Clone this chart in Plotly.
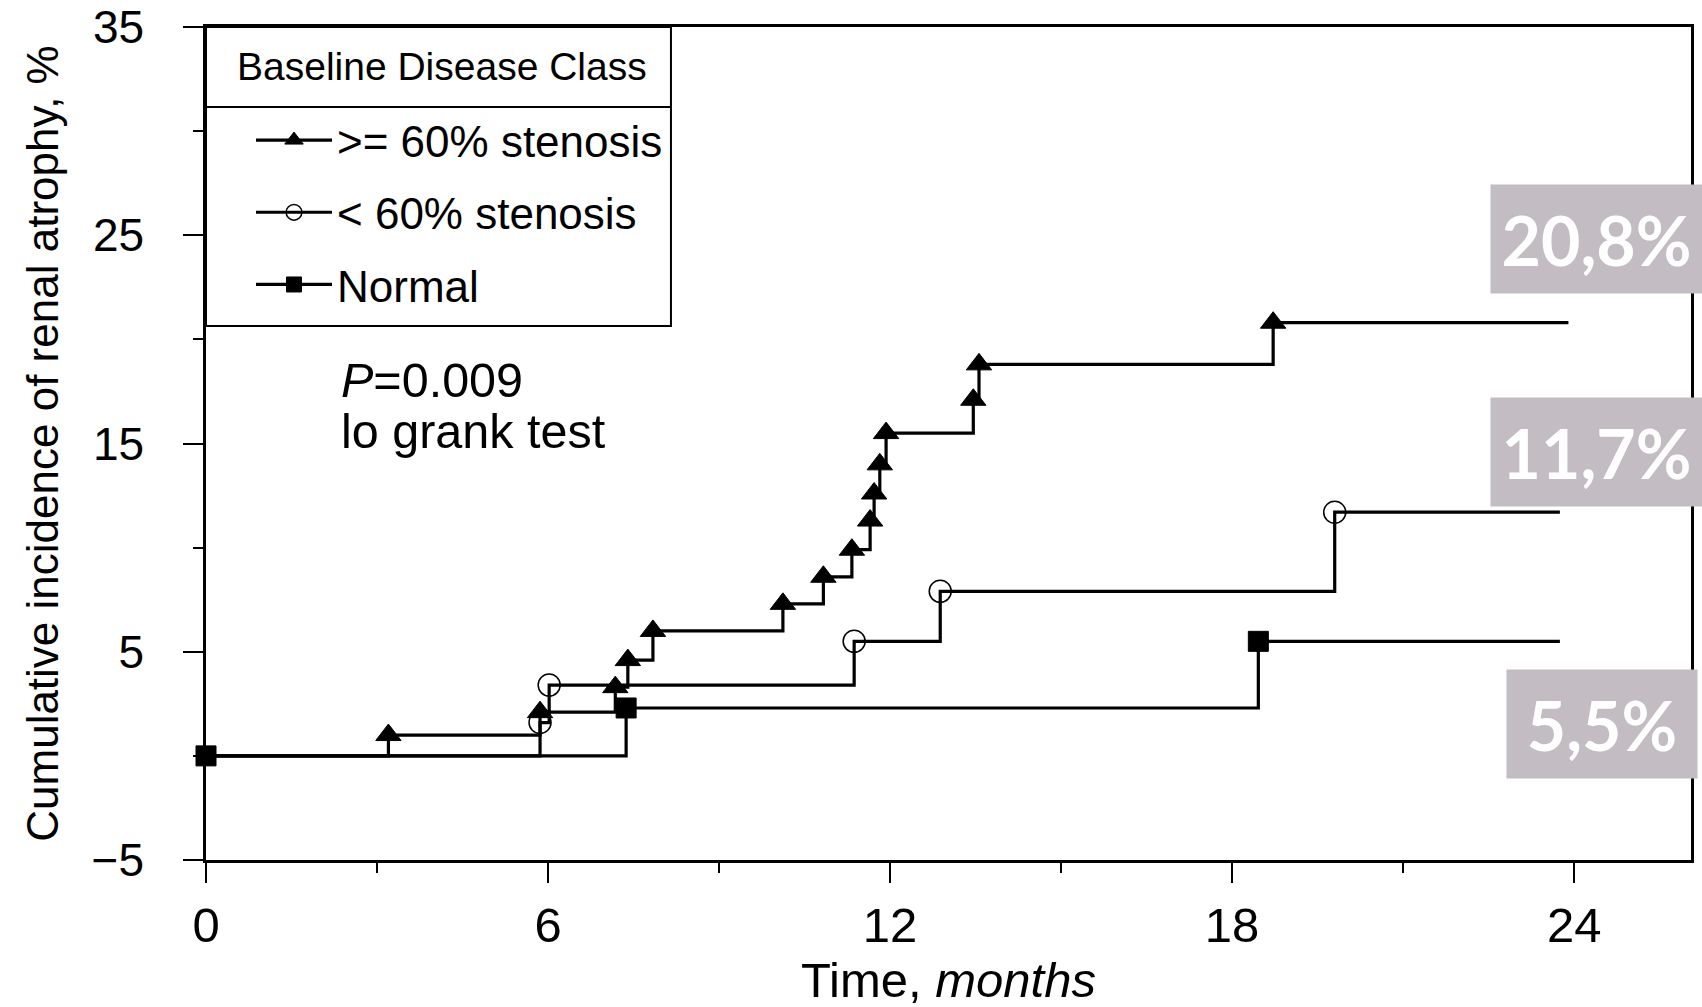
import plotly.graph_objects as go

# ---- data ----
months_ge60 = [0, 3.2, 5.86, 7.18, 7.4, 7.84, 10.12, 10.83, 11.33, 11.65, 11.72, 11.82, 11.93, 13.46, 13.56, 18.72, 23.9]
inc_ge60 = [0, 1.0, 2.1, 3.3, 4.6, 6.0, 7.3, 8.6, 9.9, 11.3, 12.6, 14.0, 15.5, 17.1, 18.8, 20.8, 20.8]

months_lt60 = [0, 5.86, 6.02, 11.37, 12.88, 19.8, 23.75]
inc_lt60 = [0, 1.6, 3.4, 5.5, 7.9, 11.7, 11.7]

months_norm = [0, 7.37, 18.46, 23.75]
inc_norm = [0, 2.3, 5.5, 5.5]

series_names = [">= 60% stenosis", "< 60% stenosis", "Normal"]
final_labels = ["20,8%", "11,7%", "5,5%"]
x_ticks = [0, 6, 12, 18, 24]
y_ticks = [-5, 5, 15, 25, 35]

FONT = "Liberation Sans, Arial, Helvetica, sans-serif"


def event_sizes(n, size, first=False):
    s = [size] * n
    if not first:
        s[0] = 0
    s[-1] = 0
    return s


fig = go.Figure()

fig.add_trace(go.Scatter(
    x=months_ge60, y=inc_ge60, name=series_names[0], legendgroup="a",
    mode="lines+markers", line=dict(shape="hv", color="black", width=3.2),
    marker=dict(symbol="triangle-up", color="black", opacity=1, line=dict(width=1, color="black"),
                size=event_sizes(len(months_ge60), 22)),
    cliponaxis=False,
))
fig.add_trace(go.Scatter(
    x=months_lt60, y=inc_lt60, name=series_names[1], legendgroup="b",
    mode="lines+markers", line=dict(shape="hv", color="black", width=3.2),
    marker=dict(symbol="circle-open", color="black", opacity=1, line=dict(width=1.5, color="black"),
                size=event_sizes(len(months_lt60), 22)),
    cliponaxis=False,
))
fig.add_trace(go.Scatter(
    x=months_norm, y=inc_norm, name=series_names[2], legendgroup="c",
    mode="lines+markers", line=dict(shape="hv", color="black", width=3.2),
    marker=dict(symbol="square", color="black", opacity=1, line=dict(width=1, color="black"),
                size=event_sizes(len(months_norm), 20, first=True)),
    cliponaxis=False,
))

# legend box with header
fig.add_shape(type="rect", xref="paper", yref="paper", x0=0.0, x1=0.3131, y0=0.641, y1=1.0,
              line=dict(color="black", width=2), fillcolor="rgba(0,0,0,0)")
fig.add_shape(type="line", xref="paper", yref="paper", x0=0.0, x1=0.3131, y0=0.904, y1=0.904,
              line=dict(color="black", width=2))
fig.add_annotation(text="Baseline Disease Class", xref="paper", yref="paper", x=0.159, y=0.952,
                   xanchor="center", yanchor="middle", showarrow=False,
                   font=dict(family=FONT, size=39, color="black"))

# p-value text
fig.add_annotation(text="<i>P</i>=0.009", xref="paper", yref="paper", x=0.0895, y=0.5762,
                   xanchor="left", yanchor="middle", showarrow=False,
                   font=dict(family=FONT, size=48.5, color="black"))
fig.add_annotation(text="lo grank test", xref="paper", yref="paper", x=0.0895, y=0.515,
                   xanchor="left", yanchor="middle", showarrow=False,
                   font=dict(family=FONT, size=48.5, color="black"))

# final value boxes
box_pos = [(0.9367, 0.7455, 211), (0.9367, 0.4898, 211), (0.9401, 0.1633, 190)]
for lab, (bx, by, bw) in zip(final_labels, box_pos):
    fig.add_annotation(text="<b>%s</b>" % lab, xref="paper", yref="paper", x=bx, y=by,
                       xanchor="center", yanchor="middle", showarrow=False,
                       width=bw, height=108, borderpad=0, bgcolor="#C4BCC3",
                       font=dict(family="Lato, Open Sans, sans-serif", size=68, color="white"))

fig.update_layout(
    width=1702, height=1007,
    margin=dict(l=206, r=11, t=27, b=147, autoexpand=False),
    paper_bgcolor="white", plot_bgcolor="white",
    font=dict(family=FONT, color="black"),
    showlegend=True,
    legend=dict(x=0.0303, y=0.9064, xanchor="left", yanchor="top",
                bgcolor="rgba(0,0,0,0)", borderwidth=0,
                font=dict(family=FONT, size=44, color="black"),
                itemwidth=76, tracegroupgap=12, traceorder="grouped"),
)

fig.update_xaxes(
    range=[0, 26.05], tickmode="array", tickvals=x_ticks, ticktext=[str(v) for v in x_ticks],
    showgrid=False, zeroline=False, showline=True, linecolor="black", linewidth=2.5, mirror=True,
    ticks="outside", ticklen=20, tickwidth=1.5, tickcolor="black", ticklabelstandoff=0,
    ticklabeloverflow="allow",
    tickfont=dict(family=FONT, size=49, color="black"),
    minor=dict(tickmode="array", tickvals=[3, 9, 15, 21], ticks="outside", ticklen=10,
               tickwidth=1.5, tickcolor="black"),
    title=dict(text="Time, <i>months</i>", font=dict(family=FONT, size=49, color="black"), standoff=43),
)
fig.update_yaxes(
    range=[-5, 35], tickmode="array", tickvals=y_ticks, ticktext=["\u22125" if v < 0 else str(v) for v in y_ticks],
    showgrid=False, zeroline=False, showline=True, linecolor="black", linewidth=2.5, mirror=True,
    ticks="outside", ticklen=20, tickwidth=1.5, tickcolor="black", ticklabelstandoff=30,
    ticklabeloverflow="allow",
    tickfont=dict(family=FONT, size=46, color="black"),
    minor=dict(tickmode="array", tickvals=[0, 10, 20, 30], ticks="outside", ticklen=10,
               tickwidth=1.5, tickcolor="black"),
    title=dict(text="Cumulative incidence of renal atrophy, %", font=dict(family=FONT, size=44, color="black"),
               standoff=20),
)

fig.write_html("out.html")
